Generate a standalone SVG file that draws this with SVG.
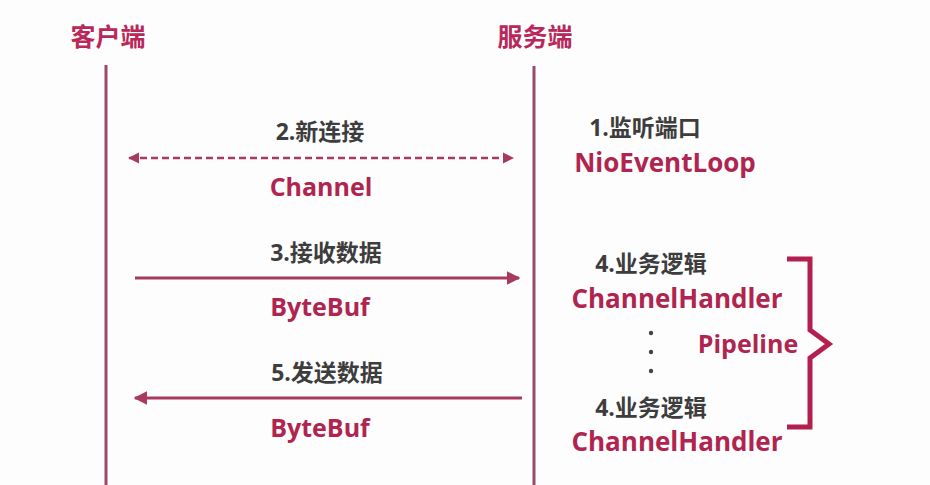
<svg xmlns="http://www.w3.org/2000/svg" width="930" height="485" viewBox="0 0 930 485">
<defs>
<style>
.title{font-family:"Noto Sans CJK SC","Noto Sans",sans-serif;font-weight:bold;font-size:25px;fill:#b8285a;text-anchor:middle}
.step{font-family:"Open Sans","Noto Sans CJK SC",sans-serif;font-weight:bold;font-size:23px;fill:#3d3d3d;text-anchor:middle}
.cls{font-family:"Open Sans","Liberation Sans",sans-serif;font-weight:bold;font-size:25px;fill:#b0254f;text-anchor:middle}
.life{stroke:#9c4a6b;stroke-width:3;fill:none}
.msg{stroke:#a83a60;stroke-width:3;fill:none}
.dash{stroke-dasharray:7 4;stroke-width:2.5}
.brace{stroke:#b3204f;stroke-width:5;fill:none;stroke-linejoin:miter}
</style>
<marker id="ah" viewBox="0 0 10 10" refX="9" refY="5" markerWidth="4.5" markerHeight="4.5" orient="auto-start-reverse" markerUnits="strokeWidth">
<path d="M0,0 L10,5 L0,10 z" fill="#a83a60"/>
</marker>
</defs>
<rect width="930" height="485" fill="#fdfdfd"/>
<g id="client">
<text class="title" x="108" y="46">客户端</text>
<line class="life" x1="106" y1="65" x2="106" y2="485"/>
</g>
<g id="server">
<text class="title" x="535" y="46">服务端</text>
<line class="life" x1="534" y1="66" x2="534" y2="485"/>
</g>
<g id="connectors">
<line class="msg dash" x1="129" y1="158" x2="513" y2="158" marker-start="url(#ah)" marker-end="url(#ah)"/>
<line class="msg" x1="135" y1="278" x2="519" y2="278" marker-end="url(#ah)"/>
<line class="msg" x1="522" y1="398" x2="135" y2="398" marker-end="url(#ah)"/>
</g>
<g id="msg-new-connection">
<text class="step" x="320" y="140">2.新连接</text>
<text class="cls" x="321" y="196">Channel</text>
</g>
<g id="msg-receive">
<text class="step" x="326" y="261">3.接收数据</text>
<text class="cls" x="320" y="316">ByteBuf</text>
</g>
<g id="msg-send">
<text class="step" x="327" y="381">5.发送数据</text>
<text class="cls" x="320" y="437">ByteBuf</text>
</g>
<g id="listen">
<text class="step" x="645" y="136">1.监听端口</text>
<text class="cls" x="665" y="172" style="font-size:26px">NioEventLoop</text>
</g>
<g id="handler1">
<text class="step" x="651" y="272">4.业务逻辑</text>
<text class="cls" x="677" y="308" style="font-size:26px">ChannelHandler</text>
</g>
<g id="dots" fill="#444">
<circle cx="651" cy="333" r="2.2"/>
<circle cx="651" cy="352" r="2.2"/>
<circle cx="651" cy="371" r="2.2"/>
</g>
<g id="handler2">
<text class="step" x="651" y="416">4.业务逻辑</text>
<text class="cls" x="677" y="451" style="font-size:26px">ChannelHandler</text>
</g>
<g id="pipeline">
<path class="brace" d="M787,259 H810 V330 L829,344 L810,358 V427 H787"/>
<text class="cls" x="748" y="353">Pipeline</text>
</g>
</svg>
